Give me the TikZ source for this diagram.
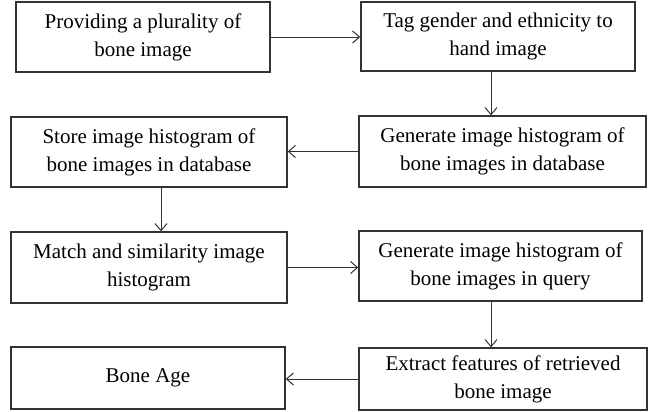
\documentclass[tikz,border=0pt]{standalone}
\usepackage{fontspec}
\setmainfont{Liberation Serif}
\usetikzlibrary{arrows.meta}
\tikzset{
	stage/.style={draw=black!80, line width=0.7pt, align=center, inner sep=0pt,
		font=\fontsize{10.5}{14}\selectfont},
	flow/.style={draw=black!80, line width=0.5pt,
		arrows={-Straight Barb[length=3.5pt,width=6pt]}},
}
\begin{document}
\begin{tikzpicture}[x=0.5pt,y=-0.5pt]
	\useasboundingbox (0,0) rectangle (649,412);
	% Left column
	\node [stage, minimum width=127pt, minimum height=35pt] (prov) at (143,37) {Providing a plurality of\\bone image};
	\node [stage, minimum width=138pt, minimum height=35pt] (store) at (149,152) {Store image histogram of\\bone images in database};
	\node [stage, minimum width=138pt, minimum height=35.5pt] (match) at (149,267.5) {Match and similarity image\\histogram};
	\node [stage, minimum width=137pt, minimum height=31pt] (age) at (148,378) {Bone Age};
	% Right column
	\node [stage, minimum width=137pt, minimum height=34.5pt] (tag) at (498,36.5) {Tag gender and ethnicity to\\hand image};
	\node [stage, minimum width=143.5pt, minimum height=35.5pt] (gendb) at (502.5,151.5) {Generate image histogram of\\bone images in database};
	\node [stage, minimum width=141.5pt, minimum height=35pt] (genq) at (500.5,266) {Generate image histogram of\\bone images in query};
	\node [stage, minimum width=144pt, minimum height=31pt] (extract) at (503,379) {Extract features of retrieved\\bone image};
	% Where the down arrows run
	\coordinate (rcol) at (491,0);
	\coordinate (lcol) at (161,0);
	% Arrows
	\draw [flow] (prov.east) -- (prov.east -| tag.west);
	\draw [flow] (rcol |- tag.south) -- (rcol |- gendb.north);
	\draw [flow] (gendb.west) -- (gendb.west -| store.east);
	\draw [flow] (lcol |- store.south) -- (lcol |- match.north);
	\draw [flow] (match.east) -- (match.east -| genq.west);
	\draw [flow] (rcol |- genq.south) -- (rcol |- extract.north);
	\draw [flow] (extract.west) -- (extract.west -| age.east);
\end{tikzpicture}
\end{document}
